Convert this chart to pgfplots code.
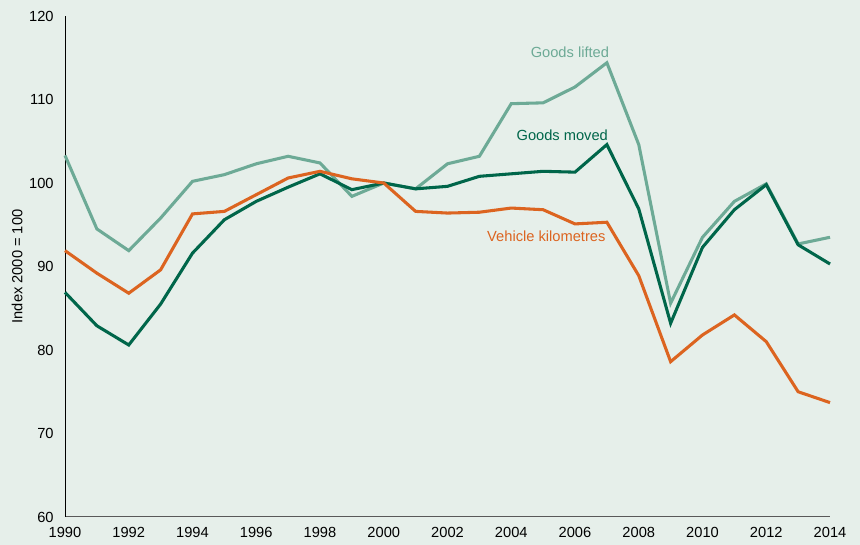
\documentclass[border=0pt]{standalone}
\usepackage{fontspec}
\setmainfont{Liberation Sans}
\usepackage{pgfplots}
\pgfplotsset{compat=1.18}
\definecolor{bg}{HTML}{E6EFEA}
\definecolor{lifted}{HTML}{6DAA96}
\definecolor{moved}{HTML}{00664A}
\definecolor{vkm}{HTML}{DC6420}
\begin{document}
\begin{tikzpicture}
\fill[bg] (0,0) rectangle (645pt,408.75pt);
\useasboundingbox (0,0) rectangle (645pt,408.75pt);
\begin{axis}[
  at={(48.75pt,21pt)}, anchor=south west,
  scale only axis, width=573.75pt, height=375.75pt,
  xmin=1990, xmax=2014, ymin=60, ymax=120,
  axis x line=bottom, axis y line=left,
  x axis line style={-, draw=black!65, line width=0.75pt},
  y axis line style={-, draw=black, line width=0.75pt},
  xtick={1990,1992,...,2014}, ytick={60,70,...,120},
  major tick length=0pt,
  xticklabel style={font=\fontsize{11}{13}\selectfont, yshift=-4pt},
  yticklabel style={font=\fontsize{11}{13}\selectfont, xshift=-5pt},
  /pgf/number format/1000 sep={},
  /pgf/number format/assume math mode=true,
  ylabel={Index 2000 = 100},
  ylabel style={font=\fontsize{11}{13}\selectfont, at={(axis description cs:-0.0627,0.5)}, anchor=center},
  clip=false,
]
\addplot[lifted, line width=2.3pt] coordinates {
(1990,103.3) (1991,94.5) (1992,91.9) (1993,95.8) (1994,100.2) (1995,101.0)
(1996,102.3) (1997,103.2) (1998,102.4) (1999,98.4) (2000,100) (2001,99.3)
(2002,102.3) (2003,103.2) (2004,109.5) (2005,109.6) (2006,111.5) (2007,114.4)
(2008,104.6) (2009,85.6) (2010,93.5) (2011,97.8) (2012,99.9) (2013,92.7) (2014,93.5)};
\addplot[moved, line width=2.3pt] coordinates {
(1990,86.9) (1991,82.9) (1992,80.6) (1993,85.5) (1994,91.6) (1995,95.6)
(1996,97.8) (1997,99.5) (1998,101.1) (1999,99.2) (2000,100) (2001,99.3)
(2002,99.6) (2003,100.8) (2004,101.1) (2005,101.4) (2006,101.3) (2007,104.6)
(2008,96.9) (2009,83.2) (2010,92.3) (2011,96.8) (2012,99.8) (2013,92.6) (2014,90.3)};
\addplot[vkm, line width=2.3pt] coordinates {
(1990,91.9) (1991,89.2) (1992,86.8) (1993,89.6) (1994,96.3) (1995,96.6)
(1996,98.6) (1997,100.6) (1998,101.4) (1999,100.5) (2000,100) (2001,96.6)
(2002,96.4) (2003,96.5) (2004,97.0) (2005,96.8) (2006,95.1) (2007,95.3)
(2008,88.9) (2009,78.6) (2010,81.8) (2011,84.2) (2012,81.0) (2013,75.0) (2014,73.7)};
\node[text=lifted, font=\fontsize{11}{13}\selectfont] at (axis cs:2005.84,115.7) {Goods lifted};
\node[text=moved, font=\fontsize{11}{13}\selectfont] at (axis cs:2005.6,105.75) {Goods moved};
\node[text=vkm, font=\fontsize{11}{13}\selectfont] at (axis cs:2005.1,93.65) {Vehicle kilometres};
\end{axis}
\end{tikzpicture}
\end{document}
